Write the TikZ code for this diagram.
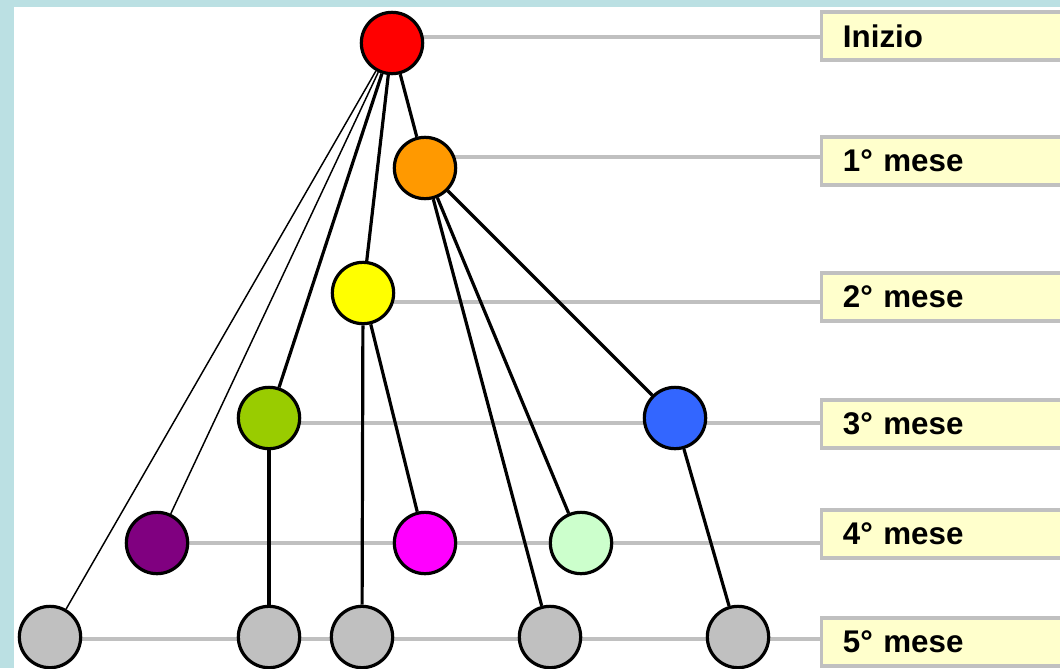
\documentclass[tikz,border=0pt]{standalone}
\usepackage{fontspec}
\setmainfont{Liberation Sans}
\usetikzlibrary{backgrounds}
\definecolor{bgblue}{HTML}{BBE0E3}
\definecolor{lgray}{HTML}{C0C0C0}
\definecolor{boxy}{HTML}{FFFFCC}
\definecolor{mred}{HTML}{FF0000}
\definecolor{morange}{HTML}{FF9900}
\definecolor{myellow}{HTML}{FFFF00}
\definecolor{mgreen}{HTML}{99CC00}
\definecolor{mblue}{HTML}{3366FF}
\definecolor{mpurple}{HTML}{800080}
\definecolor{mmagenta}{HTML}{FF00FF}
\definecolor{mlgreen}{HTML}{CCFFCC}
\begin{document}
\begin{tikzpicture}[x=0.75pt,y=-0.75pt,
  mnode/.style={circle, draw, line width=2.4pt, minimum size=46pt, inner sep=0pt},
  mbox/.style={draw=lgray, fill=boxy, line width=2.4pt, anchor=west, minimum height=36pt,
    text width=180pt, align=left, inner xsep=16pt, font=\bfseries\fontsize{23.5}{28}\selectfont},
  level/.style={draw=lgray, line width=2.6pt},
  edge/.style={line width=2.4pt},
  thinedge/.style={line width=1.1pt}]
\useasboundingbox (0,0) rectangle (1060,668);
\clip (0,0) rectangle (1060,668);
\node[mbox] (b0) at (820,36) {Inizio};
\node[mbox] (b1) at (820,161) {1° mese};
\node[mbox] (b2) at (820,297) {2° mese};
\node[mbox] (b3) at (820,424) {3° mese};
\node[mbox] (b4) at (820,534) {4° mese};
\node[mbox] (b5) at (820,642) {5° mese};
\node[mnode, fill=mred] (red) at (392,43){};
\node[mnode, fill=morange] (orange) at (425,168){};
\node[mnode, fill=myellow] (yellow) at (363,293){};
\node[mnode, fill=mgreen] (green) at (269,418){};
\node[mnode, fill=mblue] (blue) at (675,418){};
\node[mnode, fill=mpurple] (purple) at (157,543){};
\node[mnode, fill=mmagenta] (magenta) at (425,543){};
\node[mnode, fill=mlgreen] (lgreen) at (581,543){};
\node[mnode, fill=lgray] (g1) at (50,637){};
\node[mnode, fill=lgray] (g2) at (269,637){};
\node[mnode, fill=lgray] (g3) at (362,637){};
\node[mnode, fill=lgray] (g4) at (550,637){};
\node[mnode, fill=lgray] (g5) at (738,637){};
\coordinate (l0) at (392,37);
\coordinate (l1) at (425,157);
\coordinate (l2) at (363,302);
\coordinate (l3) at (269,423);
\coordinate (l4) at (157,543);
\coordinate (l5) at (50,639);
\begin{pgfonlayer}{background}
\fill[bgblue] (0,0) rectangle (1060,668);
\fill[white] (14,7) rectangle (1060,668);
\foreach \i in {0,...,5}
  \draw[level] (l\i) -- (l\i -| b\i.west);
\end{pgfonlayer}
\draw[thinedge](red) -- (g1);
\draw[thinedge](red) -- (purple);
\draw[edge](red) -- (green);
\draw[edge](red) -- (yellow);
\draw[edge](red) -- (orange);
\draw[edge](orange) -- (g4);
\draw[edge](orange) -- (lgreen);
\draw[edge](orange) -- (blue);
\draw[edge](yellow) -- (g3);
\draw[edge](yellow) -- (magenta);
\draw[edge](green) -- (g2);
\draw[edge](blue) -- (g5);
\end{tikzpicture}
\end{document}
